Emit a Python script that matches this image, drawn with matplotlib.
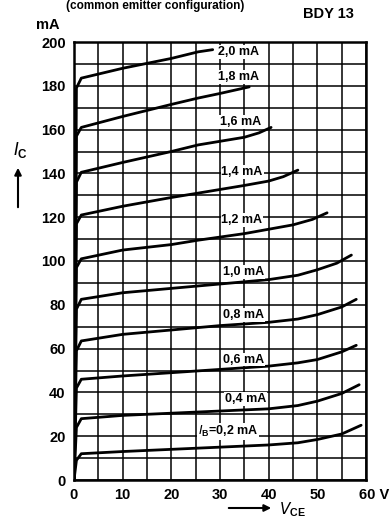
import matplotlib
matplotlib.use("Agg")
import matplotlib.pyplot as plt
import matplotlib.transforms as mtransforms

plt.rcParams['font.family'] = ['Liberation Sans', 'DejaVu Sans']

# ---- data ----
ib_labels = ["2,0 mA", "1,8 mA", "1,6 mA", "1,4 mA", "1,2 mA",
             "1,0 mA", "0,8 mA", "0,6 mA", "0,4 mA", "$I_\\mathregular{B}$=0,2 mA"]

v_20 = [0, 0.5, 1.5, 10, 20, 25.5, 28.5]
i_20 = [0, 179, 183.5, 188, 192.5, 195.5, 196.5]
v_18 = [0, 0.5, 1.5, 10, 20, 25.5, 30, 36]
i_18 = [0, 157, 161, 166, 171.5, 174.4, 176.5, 179.5]
v_16 = [0, 0.5, 1.5, 10, 20, 25.5, 35, 38, 40.5]
i_16 = [0, 136, 140.5, 145, 150, 153, 156.5, 158.5, 161]
v_14 = [0, 0.5, 1.5, 10, 20, 25.5, 35, 40, 43, 46]
i_14 = [0, 117, 121, 125, 129, 131, 134.5, 136.5, 138.5, 141.5]
v_12 = [0, 0.5, 1.5, 10, 20, 25.5, 35, 45, 49, 52]
i_12 = [0, 97, 101, 105, 107.5, 109.5, 112.5, 116.5, 119, 122]
v_10 = [0, 0.5, 1.5, 10, 20, 30, 40, 46, 50, 54, 57]
i_10 = [0, 78, 82.5, 85.5, 87.5, 89.5, 91.5, 93.5, 96, 99, 102.7]
v_08 = [0, 0.5, 1.5, 10, 20, 30, 40, 46, 50, 55, 58]
i_08 = [0, 59, 63.5, 66.5, 68.5, 70.5, 72, 73.5, 75.5, 79, 82.5]
v_06 = [0, 0.5, 1.5, 10, 20, 30, 40, 46, 50, 55, 58]
i_06 = [0, 42, 46, 47.5, 49, 50.5, 52, 53.5, 55, 58.5, 61.5]
v_04 = [0, 0.5, 1.5, 10, 20, 30, 40, 46, 50, 55, 58.6]
i_04 = [0, 24, 28, 29.5, 30.5, 31.5, 32.5, 34, 36, 39.5, 43.5]
v_02 = [0, 0.5, 1.5, 10, 20, 30, 40, 46, 50, 55, 59]
i_02 = [0, 9, 12, 13, 14, 15, 16, 17, 18.5, 21, 25]

curves_v = [v_20, v_18, v_16, v_14, v_12, v_10, v_08, v_06, v_04, v_02]
curves_i = [i_20, i_18, i_16, i_14, i_12, i_10, i_08, i_06, i_04, i_02]

label_v = [29.5, 29.5, 30, 30.3, 30.3, 30.6, 30.6, 30.6, 31, 25.5]
label_i = [195.5, 184, 163.5, 140.6, 118.7, 95, 75.3, 55, 37, 22]

x_ticks = [0, 10, 20, 30, 40, 50, 60]
x_ticklabels = ["0", "10", "20", "30", "40", "50", "60 V"]
y_ticks = [0, 20, 40, 60, 80, 100, 120, 140, 160, 180, 200]
y_ticklabels = [str(t) for t in y_ticks]

# ---- figure ----
fig = plt.figure(figsize=(3.91, 5.25), dpi=100)
ax = fig.add_axes([74 / 391, 45 / 525, 292 / 391, 438 / 525])
ax.set_xlim(0, 60)
ax.set_ylim(0, 200)

for xv in range(0, 61, 5):
    ax.axvline(xv, color='black', lw=1.1, zorder=1)
for yv in range(0, 201, 10):
    ax.axhline(yv, color='black', lw=1.1, zorder=1)

for v, i in zip(curves_v, curves_i):
    ax.plot(v, i, color='black', lw=2.0, solid_capstyle='round',
            solid_joinstyle='round', zorder=3)

for txt, lv, li in zip(ib_labels, label_v, label_i):
    ax.text(lv, li, txt, fontsize=9, fontweight='bold', ha='left', va='center',
            zorder=4, bbox=dict(facecolor='white', edgecolor='none', pad=0.6))

for s in ax.spines.values():
    s.set_linewidth(1.8)

ax.set_xticks(x_ticks)
ax.set_xticklabels(x_ticklabels, fontsize=10.5, fontweight='bold')
ax.set_yticks(y_ticks)
ax.set_yticklabels(y_ticklabels, fontsize=10.5, fontweight='bold')
ax.tick_params(length=0, pad=6)
last = ax.get_xticklabels()[-1]
last.set_horizontalalignment('left')
last.set_transform(last.get_transform() +
                   mtransforms.ScaledTranslation(-7 / 100, 0, fig.dpi_scale_trans))

# unit and titles
fig.text(48 / 391, 1 - 25 / 525, "mA", fontsize=10.5, fontweight='bold',
         ha='center', va='center')
fig.text(328 / 391, 1 - 14 / 525, "BDY 13", fontsize=10.5, fontweight='bold',
         ha='center', va='center')
fig.text(155 / 391, 1.0, "(common emitter configuration)", fontsize=8.5,
         fontweight='bold', ha='center', va='top')

# y label with arrow
fig.text(20 / 391, 1 - 150 / 525, "$I_\\mathregular{C}$", fontsize=12,
         fontweight='bold', ha='center', va='center')
fig.patches.append(matplotlib.patches.FancyArrowPatch(
    (18 / 391, 1 - 210 / 525), (18 / 391, 1 - 165 / 525),
    transform=fig.transFigure, arrowstyle='-|>', mutation_scale=10,
    color='black', lw=1.5))

# x label with arrow
fig.patches.append(matplotlib.patches.FancyArrowPatch(
    (226 / 391, 1 - 508 / 525), (274 / 391, 1 - 508 / 525),
    transform=fig.transFigure, arrowstyle='-|>', mutation_scale=10,
    color='black', lw=1.5))
fig.text(292 / 391, 1 - 510 / 525, "$V_\\mathregular{CE}$", fontsize=11,
         fontweight='bold', ha='center', va='center')

fig.savefig("out.png", dpi=100, facecolor='white')
